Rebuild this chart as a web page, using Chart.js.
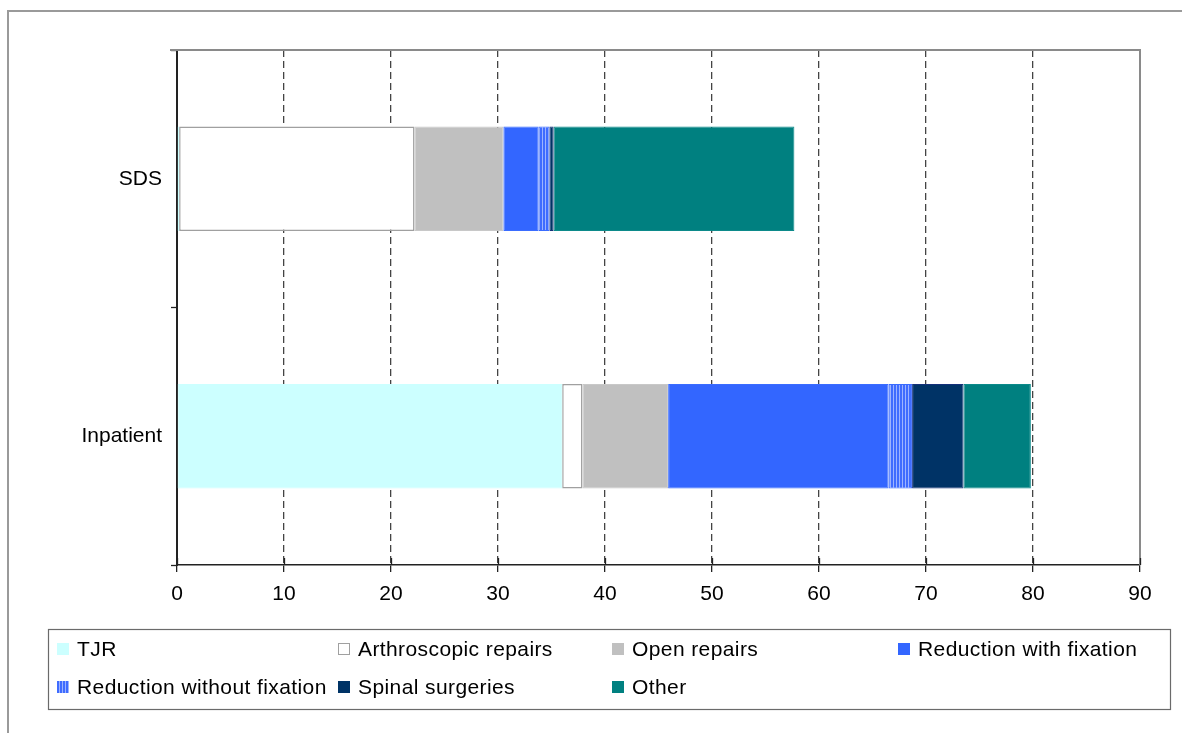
<!DOCTYPE html>
<html>
<head>
<meta charset="utf-8">
<script src="https://cdn.jsdelivr.net/npm/chart.js@4/dist/chart.umd.min.js"></script>
<style>
  html, body { margin: 0; padding: 0; background: #ffffff; }
  #wrap { width: 1182px; height: 733px; }
</style>
</head>
<body>
<div id="wrap"><canvas id="chart" width="1182" height="733"></canvas></div>
<script>
// Procedure mix by setting (stacked, horizontal)
const categories = ['SDS', 'Inpatient'];
const xTicks = [0, 10, 20, 30, 40, 50, 60, 70, 80, 90];

const tjr            = [0.2, 36.0];
const arthroscopic   = [22.0, 1.9];
const openRepairs    = [8.3, 8.0];
const reductionFix   = [3.3, 20.6];
const reductionNoFix = [1.0, 2.2];
const spinal         = [0.4, 4.8];
const other          = [22.5, 6.3];

const seriesNames = ['TJR', 'Arthroscopic repairs', 'Open repairs', 'Reduction with fixation',
                     'Reduction without fixation', 'Spinal surgeries', 'Other'];

const FONT = '"Liberation Sans", Arial, sans-serif';

// vertical stripe fill for "Reduction without fixation"
function stripePattern() {
  const c = document.createElement('canvas');
  c.width = 3; c.height = 4;
  const g = c.getContext('2d');
  g.fillStyle = '#3f6cff';
  g.fillRect(0, 0, 3, 4);
  g.fillStyle = '#9db4ff';
  g.fillRect(2, 0, 1, 4);
  return g.createPattern(c, 'repeat');
}
const stripes = stripePattern();

const fills   = ['#ccffff', '#ffffff', '#c0c0c0', '#3366ff', stripes, '#003366', '#008080'];
const borders = ['#ccffff', '#a0a0a0', '#c8c8c8', '#3a6cff', '#3a6cff', '#14307a', '#0c8a8a'];
const values  = [tjr, arthroscopic, openRepairs, reductionFix, reductionNoFix, spinal, other];

const datasets = values.map((v, i) => ({
  label: seriesNames[i],
  data: v,
  backgroundColor: fills[i],
  borderColor: borders[i],
  borderWidth: i === 1 ? 1.5 : 1,
  borderSkipped: false,
  barPercentage: 0.405,
  categoryPercentage: 1.0
}));

// outer frame, plot box, crossing ticks and the boxed legend
const decorations = {
  id: 'decorations',
  beforeDatasetsDraw(chart) {
    const { ctx, chartArea: a } = chart;
    ctx.save();
    ctx.strokeStyle = '#8a8a8a';
    ctx.lineWidth = 2;
    ctx.beginPath();
    ctx.moveTo(170, a.top);
    ctx.lineTo(a.right, a.top);
    ctx.lineTo(a.right, a.bottom);
    ctx.stroke();
    ctx.restore();
  },
  afterDraw(chart) {
    const ctx = chart.ctx;
    const a = chart.chartArea;
    const xs = chart.scales.x;
    ctx.save();
    // tick marks also reach a little above the value axis
    ctx.strokeStyle = '#222222';
    ctx.lineWidth = 1.3;
    xTicks.forEach(v => {
      const px = Math.round(xs.getPixelForValue(v)) + 0.5;
      ctx.beginPath();
      ctx.moveTo(px, a.bottom - 7);
      ctx.lineTo(px, a.bottom);
      ctx.stroke();
    });

    // page frame
    ctx.strokeStyle = '#9a9a9a';
    ctx.lineWidth = 2;
    ctx.beginPath();
    ctx.moveTo(8, 733);
    ctx.lineTo(8, 11);
    ctx.lineTo(1182, 11);
    ctx.stroke();

    // legend box
    ctx.strokeStyle = '#6a6a6a';
    ctx.lineWidth = 1.2;
    ctx.strokeRect(48.5, 629.5, 1122, 80);

    const cols = [57, 338, 612, 898];
    const rows = [649, 687];
    ctx.font = '21px ' + FONT;
    ctx.letterSpacing = '0.4px';
    ctx.textBaseline = 'middle';
    ctx.textAlign = 'left';
    seriesNames.forEach((name, i) => {
      const x = cols[i % 4];
      const y = rows[Math.floor(i / 4)];
      ctx.fillStyle = fills[i];
      ctx.fillRect(x, y - 6, 12, 12);
      if (i === 1) {
        ctx.strokeStyle = '#a0a0a0';
        ctx.lineWidth = 1;
        ctx.strokeRect(x + 0.5, y - 5.5, 11, 11);
      }
      ctx.fillStyle = '#000000';
      ctx.fillText(name, x + 20, y + 1);
    });
    ctx.restore();
  }
};

new Chart(document.getElementById('chart'), {
  type: 'bar',
  data: { labels: categories, datasets },
  plugins: [decorations],
  options: {
    indexAxis: 'y',
    responsive: false,
    animation: false,
    layout: { padding: { left: 0, right: 42, top: 50, bottom: 118 } },
    plugins: {
      legend: { display: false },
      tooltip: { enabled: false },
      title: { display: false }
    },
    scales: {
      x: {
        stacked: true,
        min: 0,
        max: 90,
        afterBuildTicks(scale) { scale.ticks = xTicks.map(v => ({ value: v })); },
        afterFit(scale) { scale.height = 50; },
        ticks: {
          color: '#000000',
          font: { family: FONT, size: 21 },
          padding: 10,
          maxRotation: 0
        },
        grid: {
          color: (c) => (c.tick && (c.tick.value === 0 || c.tick.value === 90)) ? 'rgba(0,0,0,0)' : '#444444',
          lineWidth: 1.3,
          tickColor: '#222222',
          tickLength: 7,
          tickWidth: 1.3
        },
        border: { display: true, color: '#222222', width: 1.6, dash: [7, 4] }
      },
      y: {
        stacked: true,
        afterFit(scale) { scale.width = 177; },
        ticks: {
          color: '#000000',
          font: { family: FONT, size: 21 },
          padding: 9
        },
        grid: {
          offset: true,
          drawOnChartArea: false,
          tickLength: 6,
          tickColor: '#222222',
          tickWidth: 1.3
        },
        border: { display: true, color: '#222222', width: 2 }
      }
    }
  }
});
</script>
</body>
</html>
